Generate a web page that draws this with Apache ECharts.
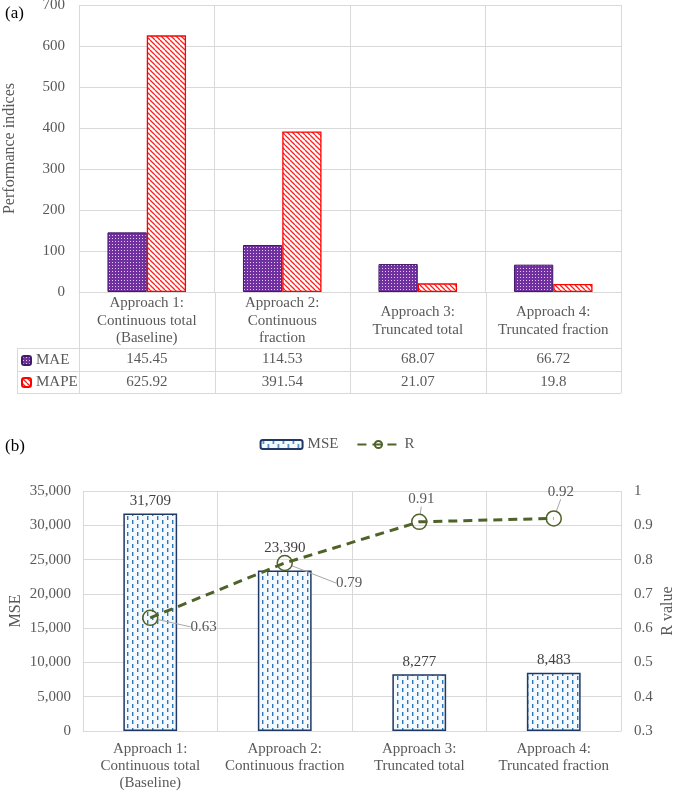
<!DOCTYPE html>
<html>
<head>
<meta charset="utf-8">
<script src="https://cdn.jsdelivr.net/npm/echarts@6/dist/echarts.min.js"></script>
<style>
html,body{margin:0;padding:0;background:#fff;}
#c{width:674px;height:792px;}
</style>
</head>
<body>
<div id="c"></div>
<script>
// ---- data ----
const categories = ['Approach 1', 'Approach 2', 'Approach 3', 'Approach 4'];
const tickLabelsA = ['Approach 1:\nContinuous total\n(Baseline)', 'Approach 2:\nContinuous\nfraction', 'Approach 3:\nTruncated total', 'Approach 4:\nTruncated fraction'];
const tickLabelsB = ['Approach 1:\nContinuous total\n(Baseline)', 'Approach 2:\nContinuous fraction', 'Approach 3:\nTruncated total', 'Approach 4:\nTruncated fraction'];
const mae = [145.45, 114.53, 68.07, 66.72];
const mape = [625.92, 391.54, 21.07, 19.8];
const mse = [31709, 23390, 8277, 8483];
const rValue = [0.63, 0.79, 0.91, 0.92];

// ---- styles ----
const FONT = '"Liberation Serif", "Times New Roman", serif';
const TXT = '#595959';
const GRID = '#D9D9D9';
const rLabelPos = ['right', 'right', 'top', 'top'];
const rLabelShift = [[27, 9], [38, 20], [2, -2], [7, -6]];
const mseLabelShift = [[0, 0], [0, -10], [0, 0], [0, 0]];

function pattern(w, h, draw) {
  const c = document.createElement('canvas');
  c.width = w; c.height = h;
  const g = c.getContext('2d');
  draw(g, w, h);
  return { image: c, repeat: 'repeat' };
}
const maePat = pattern(3, 3, (g) => {
  g.fillStyle = '#7030A0'; g.fillRect(0, 0, 3, 3);
  g.fillStyle = 'rgba(235,220,250,0.9)'; g.fillRect(1, 1, 1, 1);
});
const mapePat = pattern(5, 5, (g) => {
  g.fillStyle = '#ffffff'; g.fillRect(0, 0, 5, 5);
  g.strokeStyle = '#FF2020'; g.lineWidth = 1.3;
  [-5, 0, 5].forEach(x0 => { g.beginPath(); g.moveTo(x0, 0); g.lineTo(x0 + 5, 5); g.stroke(); });
});
const msePat = pattern(10, 8, (g) => {
  g.fillStyle = '#F4F9FD'; g.fillRect(0, 0, 10, 8);
  g.fillStyle = '#2E75B6';
  g.fillRect(2, 0, 1.4, 4);
  g.fillRect(7, 4, 1.4, 4);
});

const A = { left: 79, top: 5, right: 53, height: 287 };
const B = { left: 83, top: 491, right: 53, height: 240 };
const aBottom = A.top + A.height; // 292
const aRight = 674 - A.right;
const colW = (aRight - A.left) / 4;
const rowLines = [348, 371, 393];

const tableLines = [];
rowLines.forEach(y => tableLines.push({ type: 'line', shape: { x1: 17, y1: y + 0.5, x2: aRight, y2: y + 0.5 }, style: { stroke: GRID, lineWidth: 1 }, silent: true }));
tableLines.push({ type: 'line', shape: { x1: 17.5, y1: rowLines[0], x2: 17.5, y2: rowLines[2] }, style: { stroke: GRID, lineWidth: 1 }, silent: true });
for (let k = 0; k <= 4; k++) {
  const x = Math.round(A.left + k * colW) + 0.5;
  tableLines.push({ type: 'line', shape: { x1: x, y1: aBottom, x2: x, y2: rowLines[2] }, style: { stroke: GRID, lineWidth: 1 }, silent: true });
}

const chart = echarts.init(document.getElementById('c'));
const baseText = { fontFamily: FONT, fontSize: 15, color: TXT };

chart.setOption({
  animation: false,
  textStyle: { fontFamily: FONT },
  grid: [
    { left: A.left, top: A.top, right: A.right, height: A.height, containLabel: false, outerBoundsMode: 'none' },
    { left: B.left, top: B.top, right: B.right, height: B.height, containLabel: false, outerBoundsMode: 'none' }
  ],
  legend: [
    { data: ['MAE'], left: 21, top: 353, padding: 0, itemWidth: 9, itemHeight: 9, itemGap: 4, selectedMode: false, textStyle: Object.assign({}, baseText) },
    { data: ['MAPE'], left: 21, top: 375, padding: 0, itemWidth: 9, itemHeight: 9, itemGap: 4, selectedMode: false, textStyle: Object.assign({}, baseText) },
    { data: ['MSE', 'R'], left: 'center', top: 437, padding: 0, itemWidth: 42, itemHeight: 9, itemGap: 18, selectedMode: false, textStyle: Object.assign({}, baseText) }
  ],
  xAxis: [
    {
      gridIndex: 0, type: 'category', data: categories,
      axisLine: { lineStyle: { color: GRID } }, axisTick: { show: false },
      splitLine: { show: true, lineStyle: { color: GRID } },
      axisLabel: Object.assign({}, baseText, { interval: 0, margin: 29, verticalAlign: 'middle', lineHeight: 17.5, formatter: (v, i) => tickLabelsA[i] })
    },
    {
      gridIndex: 0, type: 'category', data: categories, position: 'bottom',
      axisLine: { show: false }, axisTick: { show: false }, splitLine: { show: false },
      axisLabel: Object.assign({}, baseText, { interval: 0, margin: 67, verticalAlign: 'middle', formatter: (v, i) => String(mae[i]) })
    },
    {
      gridIndex: 0, type: 'category', data: categories, position: 'bottom',
      axisLine: { show: false }, axisTick: { show: false }, splitLine: { show: false },
      axisLabel: Object.assign({}, baseText, { interval: 0, margin: 90, verticalAlign: 'middle', formatter: (v, i) => String(mape[i]) })
    },
    {
      gridIndex: 1, type: 'category', data: categories,
      axisLine: { lineStyle: { color: GRID } }, axisTick: { show: false },
      splitLine: { show: true, lineStyle: { color: GRID } },
      axisLabel: Object.assign({}, baseText, { interval: 0, margin: 10, lineHeight: 17, formatter: (v, i) => tickLabelsB[i] })
    }
  ],
  yAxis: [
    {
      gridIndex: 0, type: 'value', min: 0, max: 700, interval: 100,
      name: 'Performance indices', nameLocation: 'middle', nameGap: 61, nameMoveOverlap: false,
      nameTextStyle: Object.assign({}, baseText, { fontSize: 16 }),
      axisLine: { show: false }, axisTick: { show: false },
      splitLine: { lineStyle: { color: GRID } },
      axisLabel: Object.assign({}, baseText, { margin: 14 })
    },
    {
      gridIndex: 1, type: 'value', min: 0, max: 35000, interval: 5000,
      name: 'MSE', nameLocation: 'middle', nameGap: 59, nameMoveOverlap: false,
      nameTextStyle: Object.assign({}, baseText, { fontSize: 16 }),
      axisLine: { show: false }, axisTick: { show: false },
      splitLine: { lineStyle: { color: GRID } },
      axisLabel: Object.assign({}, baseText, { margin: 12, formatter: v => v.toLocaleString('en-US') })
    },
    {
      gridIndex: 1, type: 'value', min: 0.3, max: 1, interval: 0.1, position: 'right',
      name: 'R value', nameLocation: 'middle', nameGap: 39, nameRotate: 90, nameMoveOverlap: false,
      nameTextStyle: Object.assign({}, baseText, { fontSize: 16 }),
      axisLine: { show: false }, axisTick: { show: false },
      splitLine: { show: false },
      axisLabel: Object.assign({}, baseText, { margin: 13, formatter: v => String(+v.toFixed(1)) })
    }
  ],
  series: [
    {
      name: 'MAE', type: 'bar', xAxisIndex: 0, yAxisIndex: 0, data: mae,
      barGap: '0%', barCategoryGap: '42%',
      itemStyle: { color: maePat, borderColor: '#3F1A66', borderWidth: 1 }
    },
    {
      name: 'MAPE', type: 'bar', xAxisIndex: 0, yAxisIndex: 0, data: mape,
      barGap: '0%', barCategoryGap: '42%',
      itemStyle: { color: mapePat, borderColor: '#FF0000', borderWidth: 1.3 }
    },
    {
      name: 'MSE', type: 'bar', xAxisIndex: 3, yAxisIndex: 1,
      data: mse.map((v, i) => ({ value: v, label: { offset: mseLabelShift[i] } })),
      barWidth: '40%',
      itemStyle: { color: msePat, borderColor: '#1F3864', borderWidth: 1.5 },
      label: Object.assign({}, baseText, { show: true, position: 'top', distance: 5, color: '#404040', formatter: p => p.value.toLocaleString('en-US') })
    },
    {
      name: 'R', type: 'line', xAxisIndex: 3, yAxisIndex: 2, z: 5,
      data: rValue.map((v, i) => ({ value: v, label: { position: rLabelPos[i] } })),
      symbol: 'circle', symbolSize: 15,
      itemStyle: { color: 'rgba(255,255,255,0)', borderColor: '#4F6228', borderWidth: 1.5 },
      lineStyle: { color: '#4F6228', width: 3, type: [9, 6] },
      label: Object.assign({}, baseText, { show: true, distance: 5, color: TXT, formatter: p => String(p.value) }),
      labelLayout: (params) => ({ dx: rLabelShift[params.dataIndex][0], dy: rLabelShift[params.dataIndex][1] }),
      labelLine: { show: true, length2: 0, lineStyle: { color: '#A6A6A6', width: 1 } }
    }
  ],
  graphic: [
    { type: 'text', left: 5, top: 5, style: { text: '(a)', font: '17px ' + FONT, fill: '#000' }, silent: true },
    { type: 'text', left: 5, top: 438, style: { text: '(b)', font: '17px ' + FONT, fill: '#000' }, silent: true }
  ].concat(tableLines)
});
</script>
</body>
</html>
